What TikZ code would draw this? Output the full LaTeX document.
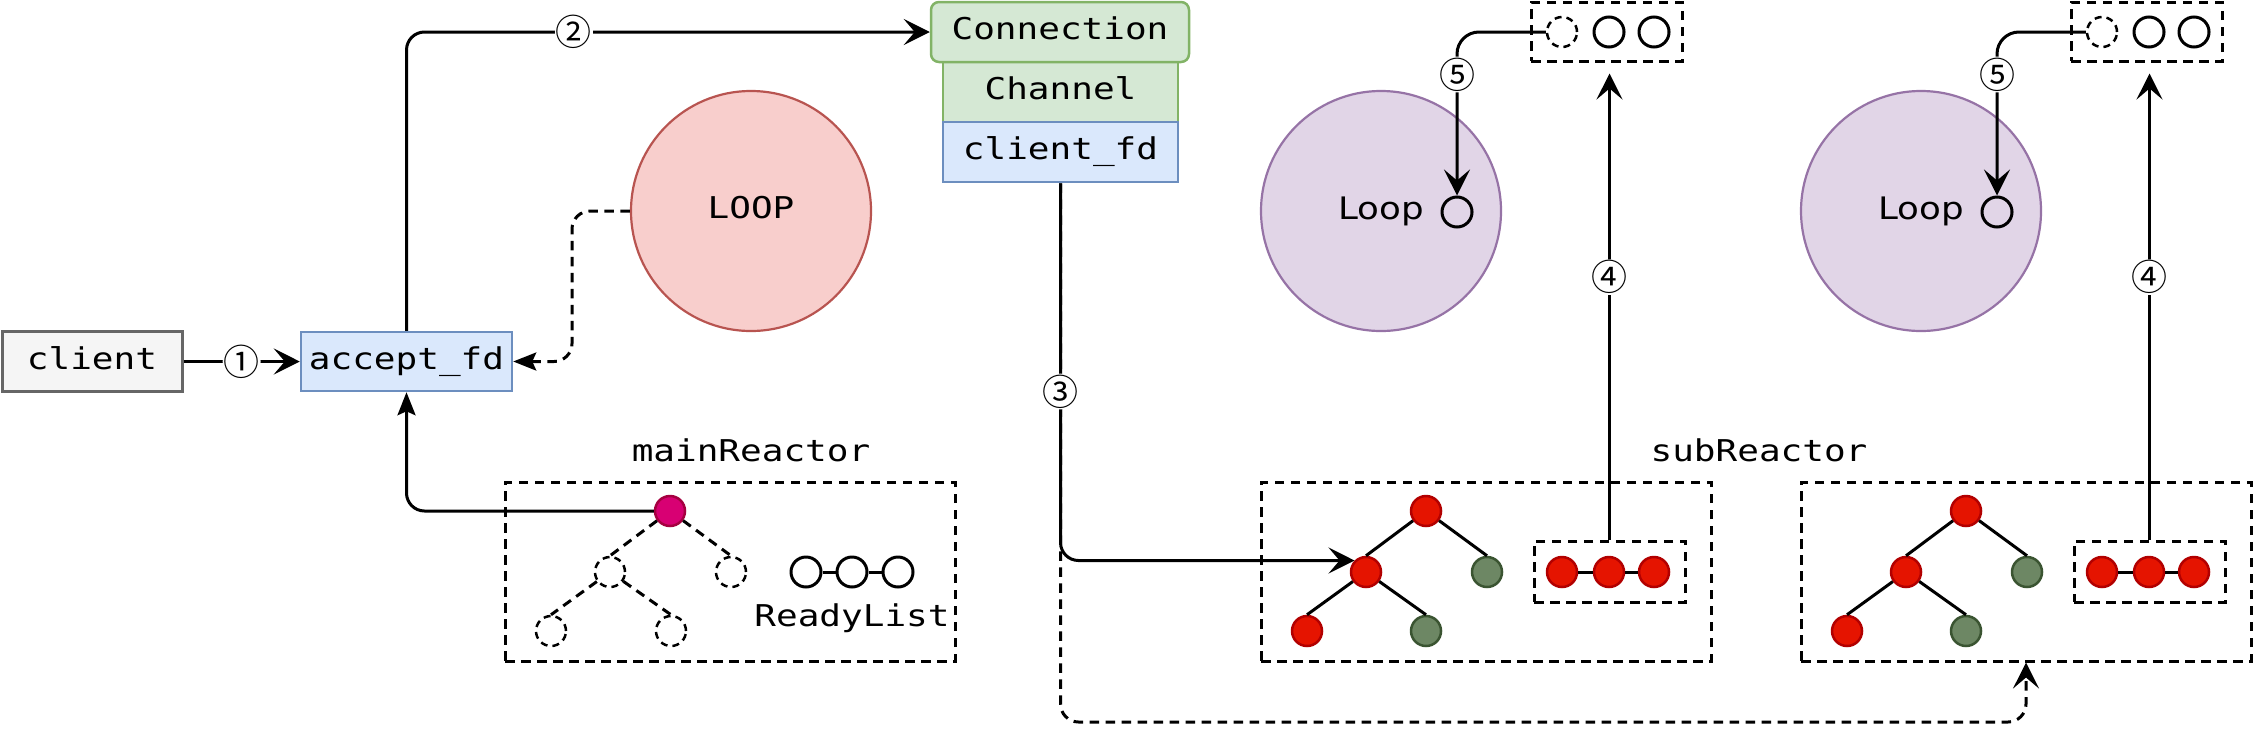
\documentclass[tikz,border=0pt]{standalone}
\usepackage{fontspec}
\setmainfont{DejaVu Sans}[FakeStretch=1.15]
\newfontfamily\monof{DejaVu Sans Mono}[FakeStretch=1.2]
\newfontfamily\circf{Noto Sans CJK SC}
\usetikzlibrary{arrows.meta}
\definecolor{cliF}{HTML}{F5F5F5}\definecolor{cliD}{HTML}{666666}
\definecolor{bluF}{HTML}{DAE8FC}\definecolor{bluD}{HTML}{6C8EBF}
\definecolor{grnF}{HTML}{D5E8D4}\definecolor{grnD}{HTML}{82B366}
\definecolor{pnkF}{HTML}{F8CECC}\definecolor{pnkD}{HTML}{B85450}
\definecolor{purF}{HTML}{E1D5E7}\definecolor{purD}{HTML}{9673A6}
\definecolor{magF}{HTML}{D80073}\definecolor{magD}{HTML}{A50040}
\definecolor{redF}{HTML}{E51400}\definecolor{redD}{HTML}{B20000}
\definecolor{gnF}{HTML}{6D8764}\definecolor{gnD}{HTML}{3A5431}
\tikzset{
  mono/.style={font=\monof\fontsize{30pt}{34pt}\selectfont, text height=22.5pt, text depth=7pt, inner sep=0pt},
  fdbox/.style={mono, draw, line width=2.5pt, minimum width=235pt, minimum height=60pt},
  dot/.style={circle, minimum size=30pt, inner sep=0pt, line width=2.5pt},
  rednode/.style={dot, fill=redF, draw=redD},
  grnnode/.style={dot, fill=gnF, draw=gnD},
  wnode/.style={dot, draw=black, fill=white, line width=3pt},
  dnode/.style={dot, draw=black, line width=2.5pt, dash pattern=on 7pt off 5pt},
  dsh/.style={dash pattern=on 9.5pt off 6.5pt},
  dbox/.style={draw, line width=3pt, dsh, inner sep=0pt},
  bigc/.style={circle, minimum size=240pt, inner sep=0pt, line width=2.2pt},
  lbl/.style={font=\circf\fontsize{36pt}{36pt}\selectfont, fill=white, inner sep=1pt},
  conn/.style={line width=3pt, rounded corners=18pt},
  arr/.style={-{Stealth[length=26pt,width=26pt,inset=11pt]}},
  arrs/.style={-{Stealth[length=23pt,width=18pt,inset=4pt]}},
  edge/.style={line width=3pt},
}
\begin{document}
\begin{tikzpicture}[x=1pt,y=-1pt]
\useasboundingbox (0,0) rectangle (2253,750);

% left part
\node[mono, draw=cliD, fill=cliF, line width=3pt, minimum width=180pt, minimum height=60pt] (cli) at (92,361.5) {client};
\node[mono, draw=bluD, fill=bluF, line width=2.5pt, minimum width=211pt, minimum height=59pt] (afd) at (406.5,361.5) {accept\_fd};
\node[bigc, fill=pnkF, draw=pnkD, mono] (LOOP) at (751,211) {LOOP};
\coordinate (lpx) at (572,211);

% connection stack
\node[fdbox, draw=grnD, fill=grnF] (chan) at (1060.5,92) {Channel};
\node[fdbox, draw=bluD, fill=bluF] (cfd) at (1060.5,152) {client\_fd};
\node[mono, draw=grnD, fill=grnF, line width=2.5pt, rounded corners=8pt, minimum width=258pt, minimum height=60pt] (conn) at (1060,32) {Connection};

% mainReactor
\node[mono] (mlab) at (751,454) {mainReactor};
\node[dbox, minimum width=450pt, minimum height=179pt] (mbox) at (730,571.5) {};
\node[dot, fill=magF, draw=magD] (mroot) at (670,511) {};
\node[dnode] (md1) at (610,572) {};
\node[dnode] (md2) at (731,572) {};
\node[dnode] (md3) at (551,631) {};
\node[dnode] (md4) at (671,631) {};
\draw[edge, dsh] (mroot) -- (md1.north);
\draw[edge, dsh] (mroot) -- (md2.north);
\draw[edge, dsh] (md1) -- (md3.north);
\draw[edge, dsh] (md1) -- (md4.north);
\node[wnode] (rl1) at (806,572) {};
\node[wnode] (rl2) at (852,572) {};
\node[wnode] (rl3) at (898,572) {};
\draw[edge] (rl1) -- (rl2);
\draw[edge] (rl2) -- (rl3);
\node[mono] (rlab) at (852,619) {ReadyList};

% subReactors
\node[mono] (slab) at (1759,454) {subReactor};
\foreach \i/\dx in {1/0,2/540} {
  \node[bigc, fill=purF, draw=purD, font=\fontsize{31pt}{34pt}\selectfont] (t\i-loop) at (1381+\dx,211) {Loop};
  \node[wnode, fill=none] (t\i-lc) at (1457+\dx,212) {};
  \node[dbox, minimum width=151pt, minimum height=59pt] (t\i-q) at (1606.5+\dx,31.5) {};
  \node[dnode] (t\i-qa) at (1562+\dx,32) {};
  \node[wnode] (t\i-qb) at (1609+\dx,32) {};
  \node[wnode] (t\i-qc) at (1654+\dx,32) {};
  \node[dbox, minimum width=450pt, minimum height=179pt] (t\i-box) at (1486+\dx,571.5) {};
  \node[rednode] (t\i-root) at (1426+\dx,511) {};
  \node[rednode] (t\i-mid) at (1366+\dx,572) {};
  \node[grnnode] (t\i-rgt) at (1487+\dx,572) {};
  \node[rednode] (t\i-bl) at (1307+\dx,631) {};
  \node[grnnode] (t\i-bm) at (1426+\dx,631) {};
  \draw[edge] (t\i-root) -- (t\i-mid.north);
  \draw[edge] (t\i-root) -- (t\i-rgt.north);
  \draw[edge] (t\i-mid) -- (t\i-bl.north);
  \draw[edge] (t\i-mid) -- (t\i-bm.north);
  \node[dbox, minimum width=151pt, minimum height=61pt] (t\i-lbox) at (1609.5+\dx,571.5) {};
  \node[rednode] (t\i-l1) at (1562+\dx,572) {};
  \node[rednode] (t\i-l2) at (1609+\dx,572) {};
  \node[rednode] (t\i-l3) at (1654+\dx,572) {};
  \draw[edge] (t\i-l1) -- (t\i-l2);
  \draw[edge] (t\i-l2) -- (t\i-l3);
  % 4
  \draw[conn, arr, shorten >=11pt] (t\i-lbox.north) -- (t\i-lbox.north |- t\i-q.south)
     node[lbl, pos=0.55] {④};
  % 5
  \draw[conn, arr, rounded corners=22pt] (t\i-qa.west) -| (t\i-lc.north)
     node[lbl, pos=0.63] {⑤};
}

% connectors
\draw[conn, arr] (cli.east) -- (afd.west) node[lbl, pos=0.5] {①};
\draw[conn, arr] (afd.north) |- (conn.west) node[lbl, pos=0.66] {②};
\draw[conn, arrs, dsh] (LOOP.west) -- (lpx) |- (afd.east);
\draw[conn, arrs] (mroot.west) -| (afd.south);
\coordinate (dy) at (0,722);
\draw[conn, arr, dsh] (cfd.south) -- (cfd.south |- dy) -| (t2-box.south);
\draw[conn, arr] (cfd.south) |- (t1-mid.135) node[lbl, pos=0.276] {③};
\end{tikzpicture}
\end{document}
